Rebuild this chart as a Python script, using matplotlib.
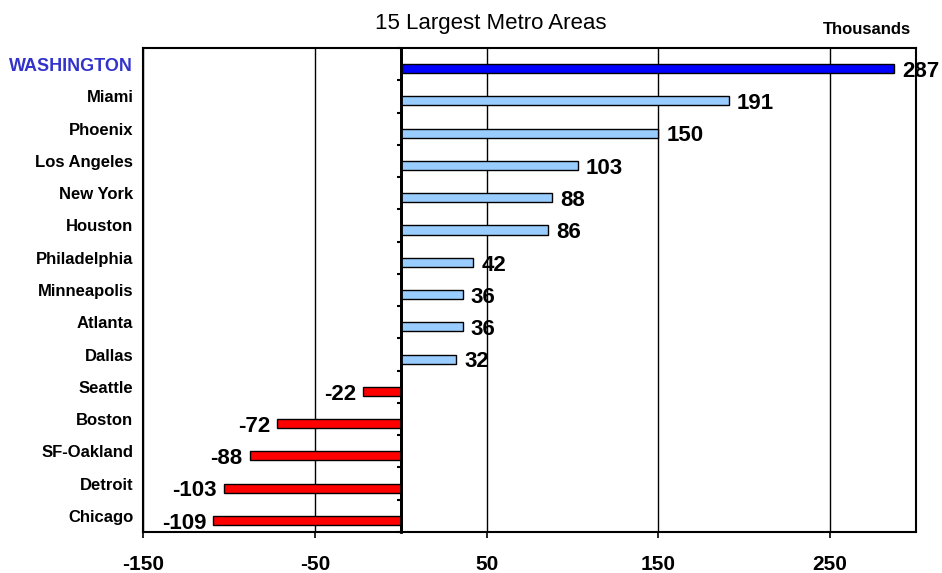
import numpy as np
import matplotlib.pyplot as plt

plt.rcParams['font.family'] = ['Liberation Sans', 'DejaVu Sans']
plt.rcParams['axes.unicode_minus'] = False

# dados
cidades = ["WASHINGTON", "Miami", "Phoenix", "Los Angeles", "New York", "Houston",
           "Philadelphia", "Minneapolis", "Atlanta", "Dallas", "Seattle", "Boston",
           "SF-Oakland", "Detroit", "Chicago"]
valores = [287, 191, 150, 103, 88, 86, 42, 36, 36, 32, -22, -72, -88, -103, -109]
xticks = [-150, -50, 50, 150, 250]

cores = []
for i, v in enumerate(valores):
    if i == 0:
        cores.append("#0000FF")
    elif v > 0:
        cores.append("#99CCFF")
    else:
        cores.append("#FF0000")

fig = plt.figure(figsize=(9.42, 5.73), dpi=100)
ax = fig.add_axes([143/942, 1 - 532/573, (916 - 143)/942, (532 - 48)/573])

pos = np.arange(len(cidades))
ax.barh(pos + 0.14, valores, height=0.28, color=cores, edgecolor="black", linewidth=1, zorder=3)

ax.set_xlim(-150, 300)
ax.set_ylim(14.5, -0.5)

# rotulos dos valores
for i, v in enumerate(valores):
    if v > 0:
        ax.annotate(str(v), (v, i + 0.14), xytext=(6, -2), textcoords="offset points",
                    ha="left", va="center", fontsize=16, fontweight="bold", zorder=4)
    else:
        ax.annotate(str(v), (v, i + 0.14), xytext=(-5, -2), textcoords="offset points",
                    ha="right", va="center", fontsize=16, fontweight="bold", zorder=4)

# eixo y (nomes)
ax.set_yticks(pos, cidades)
ax.tick_params(axis="y", length=0, pad=7)
for i, lab in enumerate(ax.get_yticklabels()):
    lab.set_fontweight("bold")
    if i == 0:
        lab.set_fontsize(13)
        lab.set_color("#3333CC")
    else:
        lab.set_fontsize(12)

# eixo x
ax.set_xticks(xticks)
ax.tick_params(axis="x", direction="out", length=4.5, width=1.2, pad=12)
for lab in ax.get_xticklabels():
    lab.set_fontsize(15)
    lab.set_fontweight("bold")
ax.grid(axis="x", color="black", linewidth=1, zorder=1)

for s in ax.spines.values():
    s.set_linewidth(1.5)

# linha do zero com marcas
ax.axvline(0, color="black", linewidth=2, zorder=5)
sec = ax.secondary_yaxis(150/450)
sec.set_yticks(np.arange(-0.5, 15, 1))
sec.tick_params(axis="y", direction="out", length=3, width=1.5, labelleft=False, labelright=False)
sec.spines["left"].set_linewidth(2)

fig.text(491/942, 1 - 23/573, "15 Largest Metro Areas", ha="center", va="center", fontsize=16)
fig.text(867/942, 1 - 30/573, "Thousands", ha="center", va="center", fontsize=12, fontweight="bold")

plt.savefig("out.png", dpi=100)
